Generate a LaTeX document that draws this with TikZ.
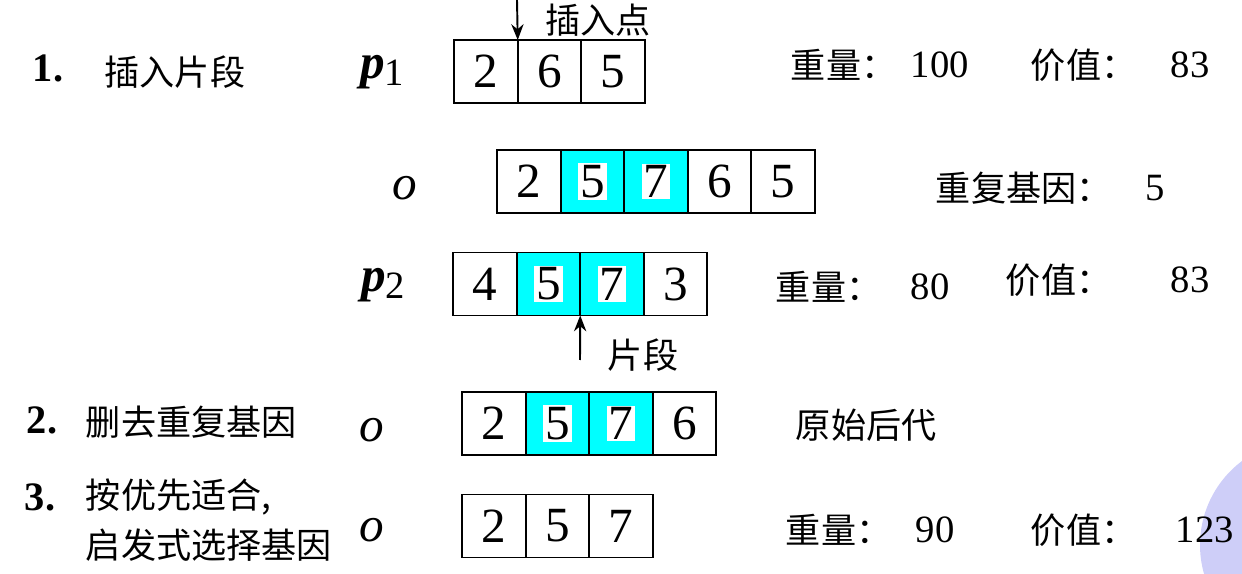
\documentclass[tikz,border=0pt]{standalone}
\usepackage{fontspec}
\setmainfont{Liberation Serif}
\newfontfamily\cjk{Noto Sans CJK SC}
\usetikzlibrary{arrows.meta, positioning}
\definecolor{segcyan}{RGB}{0,255,255}
\definecolor{blob}{RGB}{185,185,245}
\newcommand\wb[1]{{\fboxsep=1pt\colorbox{white}{#1}}}
\newcommand\sub[1]{\raisebox{-0.3ex}{\fontsize{22}{24}\selectfont\upshape\mdseries #1}}

\begin{document}
\begin{tikzpicture}[
		x=0.02cm, y=-0.02cm,
		node distance=0pt,
		line width=1.1pt,
		cell/.style= {
				draw,
				minimum width=1.27cm,
				minimum height=1.26cm,
				inner sep=0pt,
				outer sep=0pt,
				font=\fontsize{28}{30}\selectfont
			},
		hot/.style= {
				cell,
				fill=segcyan
			},
		zh/.style= {
				font=\cjk\fontsize{20}{22}\selectfont,
				inner sep=0pt
			},
		num/.style= {
				font=\fontsize{22}{24}\selectfont,
				inner sep=0pt
			},
		var/.style= {
				font=\itshape\fontsize{28}{30}\selectfont,
				inner sep=0pt
			},
		idx/.style= {
				font=\bfseries\fontsize{23}{25}\selectfont,
				inner sep=0pt
			},
		myarrow/.style= {
				-{Stealth[length=9pt, width=7pt]}
			}
	]
	\useasboundingbox (0,0) rectangle (1242,574);
	\fill[blob, opacity=0.7] (1305,545) circle (105);

	% 1. insert the segment
	\node[idx] (n1) at (48,68) {1.};
	\node[zh] (t1) at (175,72) {插入片段};
	\node[var] (p1) at (382,72) {\bfseries p\sub{1}};
	\node[cell] (p1a) at (486,71.5) {2};
	\node[cell] (p1b) [right = of p1a] {6};
	\node[cell] (p1c) [right = of p1b] {5};
	\coordinate (ins) at (517,0);
	\draw[myarrow] (ins) -- (p1a.north east);
	\node[zh] (insl) at (598,20) {插入点};
	\node[zh, anchor=west] (w1) at (790,65) {重量：};
	\node[num, anchor=west] (w1v) at (910,65) {100};
	\node[zh, anchor=west] (v1) at (1030,65) {价值：};
	\node[num, anchor=west] (v1v) at (1170,65) {83};

	\node[var] (o1) at (405,188) {o};
	\node[cell] (o1a) at (529,181.5) {2};
	\node[hot] (o1b) [right = of o1a] {\wb{5}};
	\node[hot] (o1c) [right = of o1b] {\wb{7}};
	\node[cell] (o1d) [right = of o1c] {6};
	\node[cell] (o1e) [right = of o1d] {5};
	\node[zh, anchor=west] (dup) at (935,188) {重复基因：};
	\node[num] (dupv) at (1155,188) {5};

	\node[var] (p2) at (383,285) {\bfseries p\sub{2}};
	\node[cell] (p2a) at (485,284) {4};
	\node[hot] (p2b) [right = of p2a] {\wb{5}};
	\node[hot] (p2c) [right = of p2b] {\wb{7}};
	\node[cell] (p2d) [right = of p2c] {3};
	\coordinate (seg) at (580,360);
	\draw[myarrow] (seg) -- (p2b.south east);
	\node[zh] (segl) at (643,355) {片段};
	\node[zh, anchor=west] (w2) at (775,287) {重量：};
	\node[num, anchor=west] (w2v) at (910,287) {80};
	\node[zh, anchor=west] (v2) at (1005,280) {价值：};
	\node[num, anchor=west] (v2v) at (1170,280) {83};

	% 2. delete the repeated genes
	\node[idx] (n2) at (42,420) {2.};
	\node[zh, anchor=west] (t2) at (85,422) {删去重复基因};
	\node[var] (o2) at (372,430) {o};
	\node[cell] (o2a) at (494,423.5) {2};
	\node[hot] (o2b) [right = of o2a] {\wb{5}};
	\node[hot] (o2c) [right = of o2b] {\wb{7}};
	\node[cell] (o2d) [right = of o2c] {6};
	\node[zh, anchor=west] (orig) at (795,425) {原始后代};

	% 3. greedy repair
	\node[idx] (n3) at (40,497) {3.};
	\node[zh, anchor=west] (t3) at (85,497) {按优先适合,};
	\node[zh, anchor=west] (t3b) at (85,545) {启发式选择基因};
	\node[var] (o3) at (372,530) {o};
	\node[cell] (o3a) at (494,526) {2};
	\node[cell] (o3b) [right = of o3a] {5};
	\node[cell] (o3c) [right = of o3b] {7};
	\node[zh, anchor=west] (w3) at (785,530) {重量：};
	\node[num, anchor=west] (w3v) at (915,530) {90};
	\node[zh, anchor=west] (v3) at (1030,530) {价值：};
	\node[num, anchor=west] (v3v) at (1175,530) {123};
\end{tikzpicture}
\end{document}
